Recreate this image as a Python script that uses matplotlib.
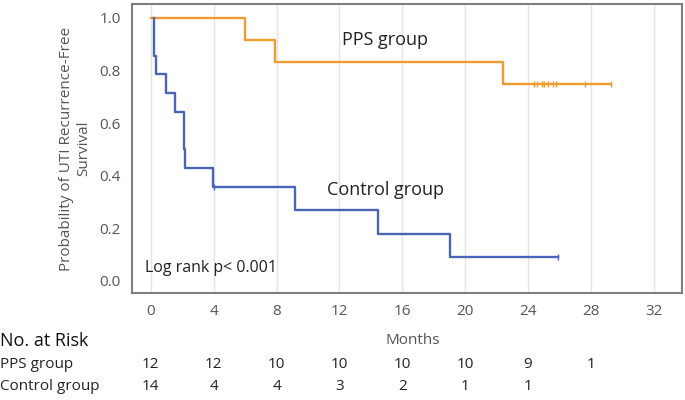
import numpy as np
import matplotlib.pyplot as plt
from matplotlib.transforms import blended_transform_factory

plt.rcParams['font.family'] = ['Open Sans', 'DejaVu Sans']

# Kaplan-Meier step data (months, survival)
pps_t = [0, 0.2, 6.0, 7.9, 22.4, 29.3]
pps_s = [1.0, 1.0, 0.917, 0.833, 0.75, 0.75]
pps_cens_t = [24.4, 24.6, 24.9, 25.0, 25.3, 25.6, 25.8, 27.6, 29.3]
pps_cens_s = [0.75] * 9

ctrl_t = [0.2, 0.2, 0.3, 0.95, 1.55, 2.1, 2.2, 3.98, 9.2, 14.45, 19.05, 25.9]
ctrl_s = [1.0, 0.857, 0.786, 0.714, 0.643, 0.5, 0.429, 0.357, 0.268, 0.179, 0.089, 0.089]
ctrl_cens_t = [4.0, 25.9]
ctrl_cens_s = [0.357, 0.089]

# Number at risk table
risk_times = [0, 4, 8, 12, 16, 20, 24, 28]
pps_risk = [12, 12, 10, 10, 10, 10, 9, 1]
ctrl_risk = [14, 4, 4, 3, 2, 1, 1, None]

orange = '#EE9B2F'
blue = '#4A64B8'
grey = '#555555'

fig = plt.figure(figsize=(6.85, 4.0), dpi=100)
ax = fig.add_axes([0.1927, 0.2675, 0.8029, 0.7225])

ax.step(pps_t, pps_s, where='post', color=orange, lw=1.7)
ax.plot(pps_cens_t, pps_cens_s, '|', color=orange, ms=5, mew=1.0)
ax.step(ctrl_t, ctrl_s, where='post', color=blue, lw=1.7)
ax.plot(ctrl_cens_t, ctrl_cens_s, '|', color=blue, ms=5, mew=1.0)

ax.set_xlim(-1.2, 33.8)
ax.set_ylim(-0.046, 1.053)
ax.set_xticks(np.arange(0, 33, 4))
ax.set_yticks(np.arange(0, 1.01, 0.2))
ax.set_yticklabels([f'{v:.1f}' for v in np.arange(0, 1.01, 0.2)])
ax.tick_params(length=0, labelsize=11, labelcolor=grey, pad=8)
ax.grid(axis='x', color='#e4e4e4', lw=1)
ax.set_axisbelow(True)
for sp in ax.spines.values():
    sp.set_color('#7f7f7f')
    sp.set_linewidth(1.5)

ax.set_ylabel('Probability of UTI Recurrence-Free\nSurvival', fontsize=11,
              color=grey, labelpad=6)

ax.text(14.9, 0.915, 'PPS group', fontsize=13, color='#222222', ha='center', va='center')
ax.text(14.95, 0.345, 'Control group', fontsize=13, color='#222222', ha='center', va='center')
ax.text(-0.4, 0.05, 'Log rank p< 0.001', fontsize=11.5, color='#222222', ha='left', va='center')

# risk table below the axes
tr = blended_transform_factory(ax.transData, fig.transFigure)
fig.text(0.603, 1 - 341 / 400, 'Months', fontsize=11, color=grey, ha='center', va='center')
fig.text(0.0, 1 - 341 / 400, 'No. at Risk', fontsize=13, color='#111111', ha='left', va='center')
fig.text(0.0, 1 - 364 / 400, 'PPS group', fontsize=11, color='#222222', ha='left', va='center')
fig.text(0.0, 1 - 386 / 400, 'Control group', fontsize=11, color='#222222', ha='left', va='center')
for t, a, b in zip(risk_times, pps_risk, ctrl_risk):
    ax.text(t, 1 - 364 / 400, str(a), transform=tr, fontsize=11, color='#222222',
            ha='center', va='center')
    if b is not None:
        ax.text(t, 1 - 386 / 400, str(b), transform=tr, fontsize=11, color='#222222',
                ha='center', va='center')

fig.savefig('out.png', dpi=100)
